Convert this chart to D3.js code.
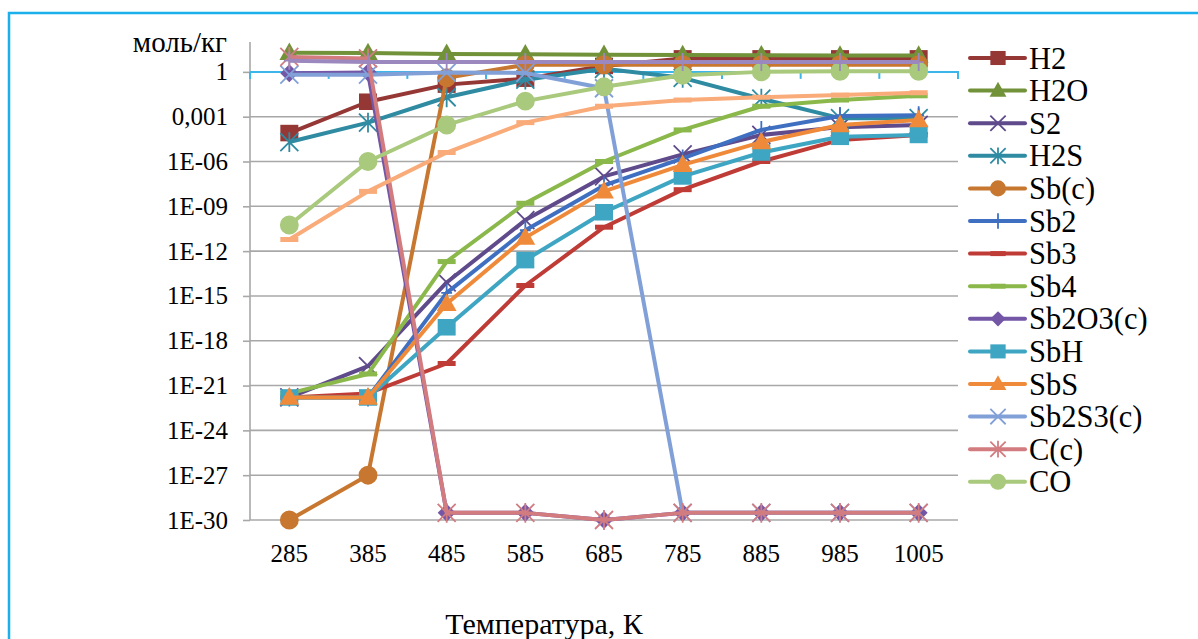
<!DOCTYPE html>
<html>
<head>
<meta charset="utf-8">
<script src="https://cdn.jsdelivr.net/npm/d3@7"></script>
<style>
	body { margin: 0; background: #fff; }
	svg text { font-family: "Liberation Serif", "DejaVu Serif", serif; fill: #000; }
</style>
</head>
<body>
<svg id="chart" width="1198" height="639" viewBox="0 0 1198 639"></svg>
<script>
// categories (temperature, K)
const temps = ["285", "385", "485", "585", "685", "785", "885", "985", "1005"];

// y axis ticks (log scale, step 1000)
const yTickValues = [1, 1e-3, 1e-6, 1e-9, 1e-12, 1e-15, 1e-18, 1e-21, 1e-24, 1e-27, 1e-30];
const yTickLabels = ["1", "0,001", "1E-06", "1E-09", "1E-12", "1E-15", "1E-18", "1E-21", "1E-24", "1E-27", "1E-30"];

// series, mol/kg
const h2 = [8e-5, 1e-2, 0.14, 0.35, 2.5, 8, 8, 8, 8];
const h2o = [19, 18, 16, 15, 14, 13.5, 13, 12.5, 12.5];
const s2 = [1.6e-22, 2e-20, 8e-15, 1.2e-10, 1e-7, 3e-6, 6e-5, 2e-4, 2.8e-4];
const h2s = [2e-5, 4e-4, 0.02, 0.3, 1.6, 0.4, 0.016, 8e-4, 8e-4];
const sbC = [1e-30, 1e-27, 0.4, 3, 3, 3, 3, 3, 3];
const sb2 = [1.6e-22, 1.6e-22, 1.6e-15, 2.5e-11, 2.5e-8, 1.6e-6, 1.3e-4, 1.1e-3, 1.25e-3];
const sb3 = [1.6e-22, 3e-22, 3e-20, 5e-15, 4e-11, 1.3e-8, 1e-6, 2.8e-5, 6e-5];
const sb4 = [3e-22, 6e-21, 2e-13, 1.6e-9, 1e-6, 1.3e-4, 5e-3, 0.013, 0.025];
const sb2o3C = [0.8, 0.9, 3e-30, 3e-30, 1e-30, 3e-30, 3e-30, 3e-30, 3e-30];
const sbH = [1.6e-22, 1.6e-22, 8e-18, 2.5e-13, 4e-10, 1e-7, 4e-6, 4.5e-5, 6e-5];
const sbS = [1.6e-22, 1.6e-22, 3e-16, 8e-12, 1e-8, 6e-7, 2e-5, 2.8e-4, 6e-4];
const sb2s3C = [0.65, 0.65, 0.9, 0.85, 0.08, 3e-30, 3e-30, 3e-30, 3e-30];
const cC = [10, 8, 3e-30, 3e-30, 1e-30, 3e-30, 3e-30, 3e-30, 3e-30];
const co = [5.6e-11, 1e-6, 2.8e-4, 0.011, 0.1, 0.6, 1, 1.1, 1.1];
// two more series are plotted but cut off from the legend
const extra15 = [6e-12, 1e-8, 4e-6, 4e-4, 5e-3, 0.013, 0.02, 0.028, 0.04];
const extra16 = [5.6, 4.5, 4.5, 4.5, 4.5, 4.5, 4.5, 4.5, 4.5];

const series = [
	{ name: "H2", values: h2, color: "#953735", marker: "square" },
	{ name: "H2O", values: h2o, color: "#72923a", marker: "triangle" },
	{ name: "S2", values: s2, color: "#5f4a8b", marker: "x" },
	{ name: "H2S", values: h2s, color: "#2f8ba2", marker: "asterisk" },
	{ name: "Sb(c)", values: sbC, color: "#c7772f", marker: "circle" },
	{ name: "Sb2", values: sb2, color: "#3f6fc0", marker: "plus" },
	{ name: "Sb3", values: sb3, color: "#bf3b36", marker: "dash" },
	{ name: "Sb4", values: sb4, color: "#8bb84a", marker: "dash" },
	{ name: "Sb2O3(c)", values: sb2o3C, color: "#7356a6", marker: "diamond" },
	{ name: "SbH", values: sbH, color: "#3ea6c3", marker: "square" },
	{ name: "SbS", values: sbS, color: "#ef8a3a", marker: "triangle" },
	{ name: "Sb2S3(c)", values: sb2s3C, color: "#82a0d8", marker: "x" },
	{ name: "C(c)", values: cC, color: "#d27c80", marker: "asterisk" },
	{ name: "CO", values: co, color: "#a9c97c", marker: "circle" },
	{ name: "", values: extra15, color: "#f9ab7a", marker: "dash", hidden: true },
	{ name: "", values: extra16, color: "#9b88be", marker: "plus", hidden: true }
];

function markerPath(type, k) {
	const s = 9 * k;
	switch (type) {
		case "square":
			return `M${-s},${-s * 0.92}H${s}V${s * 0.92}H${-s}Z`;
		case "triangle":
			return `M0,${-s * 1.15}L${s * 1.1},${s * 0.8}L${-s * 1.1},${s * 0.8}Z`;
		case "diamond":
			return `M0,${-s}L${s},0L0,${s}L${-s},0Z`;
		case "circle":
			return `M${s * 1.05},0A${s * 1.05},${s * 1.05} 0 1,1 ${-s * 1.05},0A${s * 1.05},${s * 1.05} 0 1,1 ${s * 1.05},0Z`;
		case "dash":
			return `M${-s},-2.5H${s}V2.5H${-s}Z`;
		case "x":
			return `M${-s},${-s}L${s},${s}M${-s},${s}L${s},${-s}`;
		case "asterisk":
			return `M${-s},${-s}L${s},${s}M${-s},${s}L${s},${-s}M0,${-s * 1.1}V${s * 1.1}`;
		case "plus":
			return `M0,${-s}V${s}M${-s * 0.6},0H${s * 0.6}`;
	}
}
const strokeMarkers = ["x", "asterisk", "plus"];

function drawMarker(sel, d, k) {
	const stroked = strokeMarkers.includes(d.marker);
	sel
		.append("path")
		.attr("d", markerPath(d.marker, k))
		.attr("fill", stroked ? "none" : d.color)
		.attr("stroke", stroked ? d.color : "none")
		.attr("stroke-width", stroked ? 1.8 : 0);
}

const svg = d3.select("#chart");
const plotLeft = 250, plotRight = 958, plotTop = 42, plotBottom = 520;

const x = d3.scaleBand().domain(temps).range([plotLeft, plotRight]);
const xc = t => x(t) + x.bandwidth() / 2;
const y = d3.scaleLog().domain([1e-30, 1e2]).range([plotBottom, plotTop]);

// outer frame
svg.append("rect")
	.attr("x", 9).attr("y", 13)
	.attr("width", 1300).attr("height", 700)
	.attr("fill", "#fff")
	.attr("stroke", "#1ab0ec")
	.attr("stroke-width", 2.5);

// gridlines
svg.append("g")
	.selectAll("line")
	.data(yTickValues.filter(v => v !== 1))
	.join("line")
	.attr("x1", plotLeft).attr("x2", plotRight)
	.attr("y1", d => y(d)).attr("y2", d => y(d))
	.attr("stroke", "#a8a8a8")
	.attr("stroke-width", 1.6);

// y axis
const yAxis = svg.append("g")
	.attr("transform", `translate(${plotLeft},0)`)
	.call(d3.axisLeft(y).tickValues(yTickValues).tickSize(7).tickFormat((d, i) => yTickLabels[i]));
yAxis.attr("font-family", null);
yAxis.select(".domain").attr("stroke", "#a8a8a8").attr("stroke-width", 1.6).attr("d", `M0,${plotTop}V${plotBottom}`);
yAxis.selectAll(".tick line").attr("stroke", "#a8a8a8").attr("stroke-width", 1.6);
yAxis.selectAll(".tick text")
	.attr("x", -22)
	.attr("font-size", 25)
	.attr("fill", "#000");

// horizontal axis crossing at 1
const xAxis = svg.append("g").attr("transform", `translate(0,${y(1)})`);
xAxis.append("line")
	.attr("x1", plotLeft).attr("x2", plotRight + 1)
	.attr("stroke", "#3cb6ea").attr("stroke-width", 2);
xAxis.selectAll(".xt")
	.data(temps.concat(["end"]))
	.join("line")
	.attr("class", "xt")
	.attr("x1", (d, i) => plotLeft + i * x.bandwidth())
	.attr("x2", (d, i) => plotLeft + i * x.bandwidth())
	.attr("y1", 0).attr("y2", 7)
	.attr("stroke", "#3cb6ea").attr("stroke-width", 2);

// category labels, shown at the bottom
svg.append("g")
	.selectAll("text")
	.data(temps)
	.join("text")
	.attr("x", d => xc(d))
	.attr("y", 562)
	.attr("text-anchor", "middle")
	.attr("font-size", 25)
	.text(d => d);

svg.append("text")
	.attr("x", 544).attr("y", 634)
	.attr("text-anchor", "middle")
	.attr("font-size", 30)
	.text("Температура, К");

svg.append("text")
	.attr("x", 227).attr("y", 52)
	.attr("text-anchor", "end")
	.attr("font-size", 29)
	.text("моль/кг");

// series
const line = d3.line()
	.x((d, i) => xc(temps[i]))
	.y(d => y(d));

const seriesG = svg.append("g")
	.selectAll("g")
	.data(series)
	.join("g");

seriesG.append("path")
	.attr("d", d => line(d.values))
	.attr("fill", "none")
	.attr("stroke", d => d.color)
	.attr("stroke-width", 4)
	.attr("stroke-linejoin", "round");

seriesG.each(function(d) {
	d3.select(this)
		.selectAll("g.m")
		.data(d.values)
		.join("g")
		.attr("class", "m")
		.attr("transform", (v, i) => `translate(${xc(temps[i])},${y(v)})`)
		.each(function() { drawMarker(d3.select(this), d, 1); });
});

// legend (only the first 14 entries fit)
const legend = svg.append("g")
	.selectAll("g")
	.data(series.filter(d => !d.hidden))
	.join("g")
	.attr("transform", (d, i) => `translate(970,${58 + i * 32.6})`);

legend.append("line")
	.attr("x1", 0).attr("x2", 55)
	.attr("stroke", d => d.color)
	.attr("stroke-width", 4)
	.attr("stroke-linecap", "round");
legend.append("g")
	.attr("transform", "translate(28,0)")
	.each(function(d) { drawMarker(d3.select(this), d, 0.85); });
legend.append("text")
	.attr("x", 59)
	.attr("dy", "0.35em")
	.attr("font-size", 30.5)
	.text(d => d.name);
</script>
</body>
</html>
